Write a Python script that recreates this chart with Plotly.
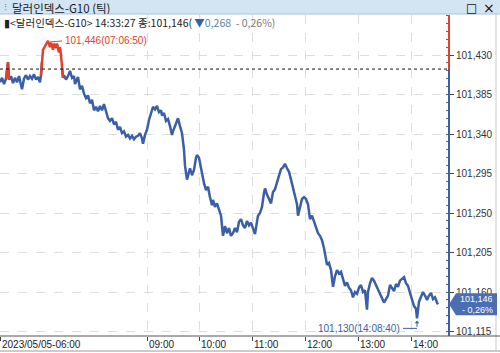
import plotly.graph_objects as go

# ---------------- data (tick sequence number, price in 1/1000) ----------------
tick_no = [0, 2, 4, 6, 8, 9, 11, 13, 15, 17, 19, 21, 22, 24, 26, 28, 30, 32, 34, 36, 38, 40, 41,
           42, 43, 45, 47, 48, 50, 51, 53, 54, 56, 57, 59, 60, 61, 62,
           63, 64, 66, 68, 70, 72, 74, 75, 77, 78, 80, 82, 84, 86, 88, 90, 92, 94, 96, 98, 100,
           102, 104, 106, 108, 110, 112, 114, 116, 118, 120, 122, 124, 126, 128, 130, 132, 134,
           136, 138, 140, 142, 143, 145, 147, 149, 151, 153, 155, 157, 159, 161, 162, 164, 166,
           168, 170, 172, 173, 175, 177, 178, 180, 182, 184, 185, 187, 189, 190, 192, 194, 196,
           197, 199, 200, 202, 204, 206, 208, 210, 212, 213, 215, 217, 219, 221, 223, 225, 227,
           229, 231, 233, 235, 237, 239, 241, 243, 245, 247, 249, 251, 253, 255, 257, 258, 260,
           262, 264, 265, 267, 269, 271, 273, 275, 277, 279, 281, 283, 285, 287, 289, 291, 293,
           295, 297, 298, 300, 302, 304, 306, 308, 310, 312, 314, 316, 318, 320, 322, 324, 326,
           327, 329, 331, 333, 335, 337, 339, 341, 343, 345, 347, 349, 351, 353, 355, 357, 359,
           361, 363, 365, 367, 368, 370, 372, 374, 376, 378, 380, 382, 384, 386, 388, 390, 392,
           394, 396, 398, 400, 402, 404, 406, 408, 410, 412, 414, 416, 417, 419, 421, 423, 425,
           427, 429, 431, 433, 435, 437, 438]
price_milli = [101399, 101404, 101397, 101403, 101422, 101402, 101406, 101398, 101404, 101399,
               101406, 101395, 101391, 101403, 101407, 101402, 101406, 101403, 101408, 101402,
               101405, 101399, 101407,
               101422, 101436, 101440, 101444, 101446, 101439, 101444, 101436, 101443, 101438,
               101443, 101433, 101439, 101430, 101415,
               101404, 101407, 101402, 101406, 101412, 101404, 101406, 101397, 101403, 101405,
               101391, 101395, 101386, 101381, 101384, 101375, 101379, 101367, 101371, 101366,
               101372, 101367, 101374, 101365, 101358, 101355, 101358, 101351, 101354, 101345,
               101348, 101341, 101343, 101337, 101339, 101335, 101338, 101334, 101337, 101338,
               101341, 101335, 101329, 101339, 101345, 101356, 101364, 101371, 101368, 101372,
               101365, 101367, 101361, 101364, 101355, 101357, 101349, 101339, 101343, 101349,
               101356, 101358, 101349, 101341, 101322, 101304, 101288, 101297, 101301, 101293,
               101299, 101313, 101316, 101313, 101307, 101292, 101284, 101276, 101280, 101268,
               101259, 101265, 101257, 101261, 101253, 101247, 101224, 101235, 101227, 101233,
               101224, 101227, 101233, 101228, 101240, 101243, 101236, 101233, 101241, 101236,
               101239, 101231, 101226, 101240, 101247, 101250, 101257, 101273, 101278, 101271,
               101265, 101261, 101274, 101277, 101285, 101294, 101300, 101302, 101306, 101301,
               101297, 101288, 101278, 101269, 101260, 101247, 101258, 101266, 101268, 101266,
               101260, 101243, 101247, 101240, 101235, 101227, 101224, 101219, 101210, 101199,
               101191, 101193, 101185, 101166, 101178, 101185, 101181, 101183, 101175, 101167,
               101171, 101165, 101162, 101154, 101160, 101158, 101165, 101168, 101160, 101162,
               101140, 101160, 101170, 101176, 101173, 101168, 101162, 101158, 101152, 101148,
               101152, 101156, 101168, 101165, 101161, 101169, 101166, 101173, 101175, 101177,
               101170, 101167, 101159, 101151, 101144, 101141, 101130, 101149, 101154, 101160,
               101156, 101151, 101156, 101159, 101152, 101154, 101148, 101146]
price = [p / 1000 for p in price_milli]

prev_close = 101.414
last_price = 101.146
last_time = "14:33:27"
change_abs = "0,268"
change_pct = "0,26%"
high_val, high_time = 101.446, "07:06:50"
low_val, low_time = 101.130, "14:08:40"

y_ticks = [101.430, 101.385, 101.340, 101.295, 101.250, 101.205, 101.160, 101.115]
y_labels = ["101,430", "101,385", "101,340", "101,295", "101,250", "101,205", "101,160", "101,115"]
x_tick_pos = [0, 147, 199, 252, 305, 358, 411]
x_tick_labels = ["2023/05/05-06:00", "09:00", "10:00", "11:00", "12:00", "13:00", "14:00"]

# ---------------- styling / layout constants ----------------
W, H = 500, 353
L, R, T, B = 0, 51, 15, 17
PW, PH = W - L - R, H - T - B
YMIN, YMAX = 101.1099, 101.4756
X_RANGE = [0, 449]
BLUE = "#3a5fa6"
RED = "#e2402c"
FONT = "Liberation Sans, Arial, sans-serif"
KFONT = "Noto Sans CJK KR, sans-serif"
val_per_px = (YMAX - YMIN) / PH


def py(pix):  # page pixel row -> paper y
    return (H - B - pix) / PH


def px(pix):  # page pixel column -> paper x
    return (pix - L) / PW


# split into up (red) / down (blue) parts around previous close
n = len(price)
red_y, blue_y = [], []
for i, v in enumerate(price):
    nb = [price[j] for j in (i - 1, i + 1) if 0 <= j < n]
    up = v >= prev_close or any(u >= prev_close for u in nb)
    dn = v < prev_close or any(u < prev_close for u in nb)
    red_y.append(v if up else None)
    blue_y.append(v if dn else None)

fig = go.Figure()
fig.add_trace(go.Scatter(x=tick_no, y=blue_y, mode="lines", line=dict(color=BLUE, width=2.5),
                         connectgaps=False, hoverinfo="skip"))
fig.add_trace(go.Scatter(x=tick_no, y=red_y, mode="lines", line=dict(color=RED, width=2.5),
                         connectgaps=False, hoverinfo="skip"))

shapes = []
# title bar
shapes.append(dict(type="rect", xref="paper", yref="paper", x0=px(0), x1=px(W), y0=py(14), y1=py(0),
                   fillcolor="#d3e4f3", line=dict(width=0), layer="below"))
shapes.append(dict(type="line", xref="paper", yref="paper", x0=px(0), x1=px(W), y0=py(14), y1=py(14),
                   line=dict(color="#a8c2dc", width=1)))
# right border
shapes.append(dict(type="line", xref="paper", yref="paper", x0=px(496), x1=px(496), y0=py(14), y1=py(351),
                   line=dict(color="#c8c8c8", width=1)))
# bottom border
shapes.append(dict(type="line", xref="paper", yref="paper", x0=px(0), x1=px(W), y0=py(351), y1=py(351),
                   line=dict(color="#9a9a9a", width=1)))
# x axis line across width
shapes.append(dict(type="line", xref="paper", yref="paper", x0=px(0), x1=px(W), y0=0, y1=0,
                   line=dict(color="#555555", width=1)))
# previous close dashed line
shapes.append(dict(type="line", xref="paper", yref="y", x0=0, x1=1, y0=prev_close, y1=prev_close,
                   line=dict(color="#111111", width=1, dash="3px,3px")))
# coloured y axis line
shapes.append(dict(type="line", xref="paper", yref="y", x0=1, x1=1, y0=prev_close, y1=YMAX,
                   line=dict(color=RED, width=2)))
shapes.append(dict(type="line", xref="paper", yref="y", x0=1, x1=1, y0=YMIN, y1=prev_close,
                   line=dict(color=BLUE, width=2)))
# last price box
hh = 11 * val_per_px
path = (f"M {px(449)},{last_price} L {px(456)},{last_price + hh} L {px(497)},{last_price + hh} "
        f"L {px(497)},{last_price - hh} L {px(456)},{last_price - hh} Z")
shapes.append(dict(type="path", xref="paper", yref="y", path=path, fillcolor="#4a6db3",
                   line=dict(width=0)))
# high leader
hi_idx = tick_no[price.index(high_val)]
shapes.append(dict(type="line", xref="x", yref="y", x0=hi_idx + 2, x1=hi_idx + 14,
                   y0=high_val - 1 * val_per_px, y1=high_val,
                   line=dict(color=RED, width=1)))
# low leader
lo_idx = tick_no[price.index(low_val)]
lo_lab_y = low_val - 10 * val_per_px
shapes.append(dict(type="line", xref="x", yref="y", x0=lo_idx - 14, x1=lo_idx, y0=lo_lab_y, y1=lo_lab_y,
                   line=dict(color=BLUE, width=1)))

ann = []
for pos, lab in zip(x_tick_pos, x_tick_labels):
    ann.append(dict(x=pos, xref="x", y=py(344), yref="paper", text=lab, showarrow=False,
                    xanchor="left", yanchor="middle", xshift=0, font=dict(family=FONT, size=10, color="#222")))
ann.append(dict(x=hi_idx + 15, xref="x", y=high_val, yref="y", text=f"{high_val:.3f}".replace(".", ",") + f"({high_time})",
                showarrow=False, xanchor="left", yanchor="middle", font=dict(family=FONT, size=10, color=RED)))
ann.append(dict(x=lo_idx - 15, xref="x", y=lo_lab_y, yref="y", text=f"{low_val:.3f}".replace(".", ",") + f"({low_time})",
                showarrow=False, xanchor="right", yanchor="middle", font=dict(family=FONT, size=10, color=BLUE)))
ann.append(dict(x=lo_idx, y=low_val - 2.5 * val_per_px, xref="x", yref="y", ax=lo_idx, ay=lo_lab_y,
                axref="x", ayref="y", text="", showarrow=True, arrowhead=1, arrowsize=0.8,
                arrowwidth=1, arrowcolor=BLUE))
# last price box text
ann.append(dict(x=px(495), xref="paper", y=last_price, yref="y", yshift=5.5, text=f"{last_price:.3f}".replace(".", ","),
                showarrow=False, xanchor="right", yanchor="middle", height=10,
                font=dict(family=FONT, size=9, color="white")))
ann.append(dict(x=px(495), xref="paper", y=last_price, yref="y", yshift=-5.5, text="- " + change_pct,
                showarrow=False, xanchor="right", yanchor="middle", height=10,
                font=dict(family=FONT, size=9, color="white")))
# title bar
ann.append(dict(x=px(2), xref="paper", y=py(7), yref="paper", text="⁝", showarrow=False, xanchor="left",
                yanchor="middle", font=dict(family="DejaVu Sans", size=10, color="#7a8a9a")))
ann.append(dict(x=px(10), xref="paper", y=py(7), yref="paper", text="달러인덱스-G10 (틱)", showarrow=False,
                xanchor="left", yanchor="middle", height=13,
                font=dict(family=KFONT, size=11.5, color="#1a1a1a")))
ann.append(dict(x=px(471), xref="paper", y=py(7), yref="paper", text="□", showarrow=False,
                xanchor="center", yanchor="middle", height=13,
                font=dict(family="DejaVu Sans", size=12, color="#111")))
ann.append(dict(x=px(489), xref="paper", y=py(7), yref="paper", text="×", showarrow=False,
                xanchor="center", yanchor="middle", height=13,
                font=dict(family="DejaVu Sans", size=14, color="#111")))
# info line
info = (f"▮&lt;달러인덱스-G10&gt; {last_time} 종:{last_price:.3f}".replace(".", ",")
        + f"( <span style='color:{BLUE}'>▼</span><span style='color:#5d7fae'>{change_abs}</span>"
        + f"<span style='color:#777'>  - {change_pct})</span>")
ann.append(dict(x=px(2), xref="paper", y=py(22), yref="paper", text=info, showarrow=False,
                xanchor="left", yanchor="middle", height=13,
                font=dict(family=KFONT, size=10.5, color="#222")))

fig.update_layout(
    width=W, height=H, margin=dict(l=L, r=R, t=T, b=B, pad=0),
    paper_bgcolor="white", plot_bgcolor="white", showlegend=False,
    shapes=shapes, annotations=ann,
    xaxis=dict(range=X_RANGE, tickvals=x_tick_pos, showticklabels=False, ticks="outside", ticklen=4,
               tickcolor="#444", showgrid=True, gridcolor="#dedede", griddash="dash", gridwidth=1,
               zeroline=False, showline=False, fixedrange=True),
    yaxis=dict(range=[YMIN, YMAX], side="right", tickvals=y_ticks, ticktext=y_labels, ticks="outside",
               ticklen=4, tickcolor="#444", tickfont=dict(family=FONT, size=10, color="#333"),
               showgrid=True, gridcolor="#dedede", griddash="dash", gridwidth=1, zeroline=False,
               showline=False,
               minor=dict(ticks="inside", ticklen=3, dtick=0.009, tick0=101.115, tickcolor="#667",
                          showgrid=False)),
)

fig.write_html("out.html")
